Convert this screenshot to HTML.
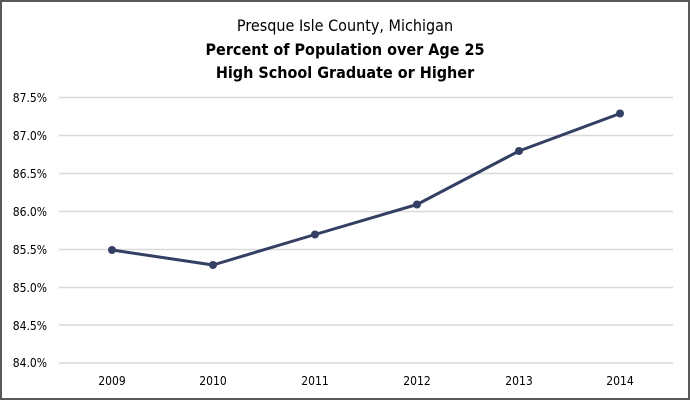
<!DOCTYPE html>
<html><head><style>
html,body{margin:0;padding:0;background:#fff;}
svg{display:block;}
</style></head><body>
<svg width="690" height="400" xmlns="http://www.w3.org/2000/svg">
<rect x="1" y="1" width="688" height="398" fill="#fff" stroke="#595959" stroke-width="2"/>
<g font-family="DejaVu Sans Condensed, Liberation Sans, sans-serif" text-anchor="middle" fill="#000">
<text x="345" y="31" font-size="16">Presque Isle County, Michigan</text>
<text x="345" y="55" font-size="16" font-weight="bold">Percent of Population over Age 25</text>
<text x="345" y="78" font-size="16" font-weight="bold">High School Graduate or Higher</text>
</g>
<g stroke="#d9d9d9" stroke-width="1.5">
<line x1="59" x2="673" y1="97.5" y2="97.5"/>
<line x1="59" x2="673" y1="135.5" y2="135.5"/>
<line x1="59" x2="673" y1="173.5" y2="173.5"/>
<line x1="59" x2="673" y1="211.5" y2="211.5"/>
<line x1="59" x2="673" y1="249.5" y2="249.5"/>
<line x1="59" x2="673" y1="287.5" y2="287.5"/>
<line x1="59" x2="673" y1="325" y2="325"/>
<line x1="59" x2="673" y1="363" y2="363"/>
</g>
<g font-family="DejaVu Sans Condensed, Liberation Sans, sans-serif" font-size="12" fill="#000" text-anchor="end">
<text x="47" y="102">87.5%</text>
<text x="47" y="140">87.0%</text>
<text x="47" y="178">86.5%</text>
<text x="47" y="216">86.0%</text>
<text x="47" y="254">85.5%</text>
<text x="47" y="292">85.0%</text>
<text x="47" y="330">84.5%</text>
<text x="47" y="367">84.0%</text>
</g>
<g font-family="DejaVu Sans Condensed, Liberation Sans, sans-serif" font-size="12" fill="#000" text-anchor="middle">
<text x="112" y="385">2009</text>
<text x="213" y="385">2010</text>
<text x="315" y="385">2011</text>
<text x="417" y="385">2012</text>
<text x="519" y="385">2013</text>
<text x="620" y="385">2014</text>
</g>
<polyline fill="none" stroke="#333f63" stroke-width="3" stroke-linejoin="round" points="112,250 213,265 315,234.5 417,204.5 519,151 620,113.5"/>
<g fill="#333f63">
<circle cx="112" cy="250" r="4"/>
<circle cx="213" cy="265" r="4"/>
<circle cx="315" cy="234.5" r="4"/>
<circle cx="417" cy="204.5" r="4"/>
<circle cx="519" cy="151" r="4"/>
<circle cx="620" cy="113.5" r="4"/>
</g>
</svg>
</body></html>
